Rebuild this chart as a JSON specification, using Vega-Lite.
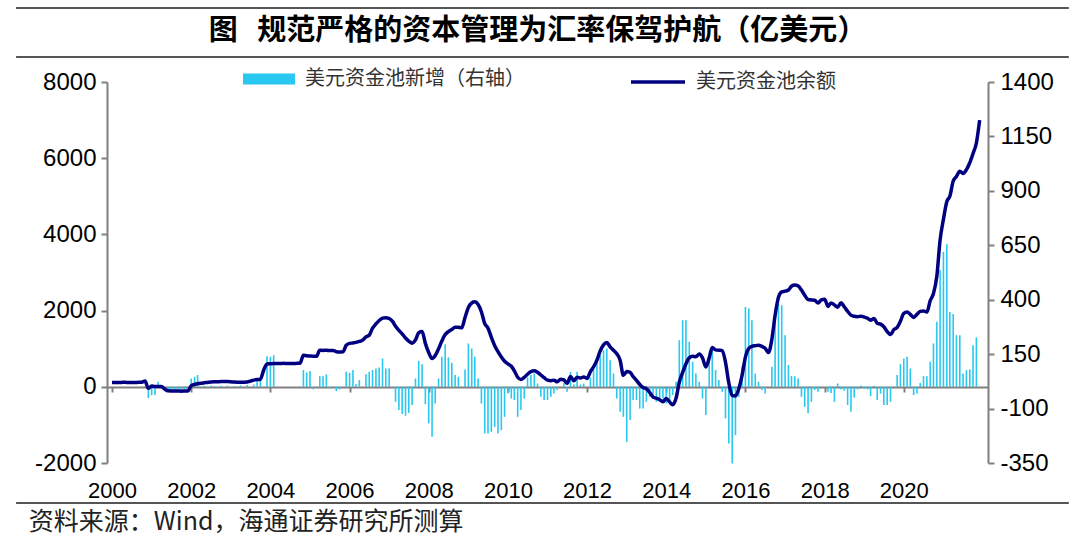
{
"$schema": "https://vega.github.io/schema/vega-lite/v6.json",
"width": 881, "height": 381,
"autosize": {"type": "none"},
"padding": {"left": 107, "top": 82, "right": 92, "bottom": 82},
"background": "white",
"config": {"view": {"stroke": null}, "font": "Liberation Sans"},
"title": {"text": "图\u00a0\u00a0\u00a0规范严格的资本管理为汇率保驾护航（亿美元）", "font": "Noto Sans CJK SC", "fontSize": 29, "fontWeight": "bold", "color": "#000000", "anchor": "middle", "frame": "group", "dx": -10, "offset": -39},
"data": {"format": {"parse": {"d": "date:'%Y-%m'"}}, "values": [
{"d":"2000-01","b":114},{"d":"2000-02","b":115},{"d":"2000-03","b":113},{"d":"2000-04","b":116},{"d":"2000-05","b":118},{"d":"2000-06","b":114},{"d":"2000-07","b":112},{"d":"2000-08","b":115},{"d":"2000-09","b":117},{"d":"2000-10","b":120},{"d":"2000-11","b":150},{"d":"2000-12","b":-40,"i":-52},
{"d":"2001-01","b":20,"i":-38},{"d":"2001-02","b":10,"i":-38},{"d":"2001-03","b":10,"i":23},{"d":"2001-04","b":5},{"d":"2001-05","b":-60},{"d":"2001-06","b":-105,"i":-20},{"d":"2001-07","b":-110,"i":-15},{"d":"2001-08","b":-112,"i":-20},{"d":"2001-09","b":-110,"i":-20},{"d":"2001-10","b":-115,"i":-15},{"d":"2001-11","b":-112,"i":-10},{"d":"2001-12","b":-110},
{"d":"2002-01","b":30,"i":38},{"d":"2002-02","b":60,"i":46},{"d":"2002-03","b":80,"i":54},{"d":"2002-04","b":95},{"d":"2002-05","b":105,"i":5},{"d":"2002-06","b":115},{"d":"2002-07","b":125,"i":6},{"d":"2002-08","b":130,"i":4},{"d":"2002-09","b":132},{"d":"2002-10","b":138,"i":5},{"d":"2002-11","b":140},{"d":"2002-12","b":138,"i":5},
{"d":"2003-01","b":132},{"d":"2003-02","b":125,"i":4},{"d":"2003-03","b":122},{"d":"2003-04","b":122,"i":6},{"d":"2003-05","b":122},{"d":"2003-06","b":125,"i":8},{"d":"2003-07","b":150},{"d":"2003-08","b":175,"i":10},{"d":"2003-09","b":190,"i":28},{"d":"2003-10","b":200,"i":32},{"d":"2003-11","b":440},{"d":"2003-12","b":600,"i":140},
{"d":"2004-01","b":605,"i":138},{"d":"2004-02","b":610,"i":145},{"d":"2004-03","b":612},{"d":"2004-04","b":610},{"d":"2004-05","b":615},{"d":"2004-06","b":612},{"d":"2004-07","b":612},{"d":"2004-08","b":610},{"d":"2004-09","b":615},{"d":"2004-10","b":620},{"d":"2004-11","b":830,"i":77},{"d":"2004-12","b":815,"i":66},
{"d":"2005-01","b":810,"i":73},{"d":"2005-02","b":805,"i":-12},{"d":"2005-03","b":800},{"d":"2005-04","b":960,"i":49},{"d":"2005-05","b":955,"i":49},{"d":"2005-06","b":960,"i":57},{"d":"2005-07","b":950,"i":-8},{"d":"2005-08","b":955},{"d":"2005-09","b":920,"i":-20},{"d":"2005-10","b":915,"i":-12},{"d":"2005-11","b":920},{"d":"2005-12","b":1090,"i":69},
{"d":"2006-01","b":1140,"i":64},{"d":"2006-02","b":1150,"i":77},{"d":"2006-03","b":1165,"i":12},{"d":"2006-04","b":1190,"i":31},{"d":"2006-05","b":1225},{"d":"2006-06","b":1310,"i":58},{"d":"2006-07","b":1355,"i":69},{"d":"2006-08","b":1540,"i":77},{"d":"2006-09","b":1650,"i":84},{"d":"2006-10","b":1740,"i":89},{"d":"2006-11","b":1800,"i":130},{"d":"2006-12","b":1815,"i":84},
{"d":"2007-01","b":1790,"i":84},{"d":"2007-02","b":1715},{"d":"2007-03","b":1590,"i":-69},{"d":"2007-04","b":1480,"i":-107},{"d":"2007-05","b":1390,"i":-125},{"d":"2007-06","b":1280,"i":-133},{"d":"2007-07","b":1200,"i":-120},{"d":"2007-08","b":1145,"i":-84},{"d":"2007-09","b":1230,"i":38},{"d":"2007-10","b":1420,"i":119},{"d":"2007-11","b":1450,"i":104},{"d":"2007-12","b":1140,"i":-80},
{"d":"2008-01","b":900,"i":-168},{"d":"2008-02","b":740,"i":-230},{"d":"2008-03","b":820,"i":-77},{"d":"2008-04","b":1000,"i":38},{"d":"2008-05","b":1200,"i":138},{"d":"2008-06","b":1370,"i":196},{"d":"2008-07","b":1450,"i":135},{"d":"2008-08","b":1505,"i":110},{"d":"2008-09","b":1565,"i":54},{"d":"2008-10","b":1560,"i":46},{"d":"2008-11","b":1550},{"d":"2008-12","b":1820,"i":80},
{"d":"2009-01","b":2080,"i":199},{"d":"2009-02","b":2200,"i":176},{"d":"2009-03","b":2230,"i":138},{"d":"2009-04","b":2160,"i":38},{"d":"2009-05","b":1970,"i":-77},{"d":"2009-06","b":1660,"i":-214},{"d":"2009-07","b":1540,"i":-214},{"d":"2009-08","b":1300,"i":-207},{"d":"2009-09","b":1080,"i":-184},{"d":"2009-10","b":920,"i":-214},{"d":"2009-11","b":780,"i":-199},{"d":"2009-12","b":670,"i":-138},
{"d":"2010-01","b":600,"i":-31},{"d":"2010-02","b":540,"i":-54},{"d":"2010-03","b":420,"i":-61},{"d":"2010-04","b":250,"i":-138},{"d":"2010-05","b":190,"i":-107},{"d":"2010-06","b":250,"i":-54},{"d":"2010-07","b":330,"i":43},{"d":"2010-08","b":400,"i":54},{"d":"2010-09","b":420,"i":61},{"d":"2010-10","b":380,"i":15},{"d":"2010-11","b":310,"i":-46},{"d":"2010-12","b":240,"i":-61},
{"d":"2011-01","b":175,"i":-61},{"d":"2011-02","b":160,"i":-46},{"d":"2011-03","b":175,"i":-31},{"d":"2011-04","b":130,"i":-15},{"d":"2011-05","b":200},{"d":"2011-06","b":180,"i":18},{"d":"2011-07","b":90,"i":-23},{"d":"2011-08","b":270,"i":69},{"d":"2011-09","b":160,"i":12},{"d":"2011-10","b":250,"i":69},{"d":"2011-11","b":230,"i":10},{"d":"2011-12","b":260,"i":15},
{"d":"2012-01","b":220},{"d":"2012-02","b":400,"i":43},{"d":"2012-03","b":520,"i":84},{"d":"2012-04","b":700,"i":115},{"d":"2012-05","b":940,"i":145},{"d":"2012-06","b":1100,"i":168},{"d":"2012-07","b":1160,"i":176},{"d":"2012-08","b":1050,"i":122},{"d":"2012-09","b":960,"i":61},{"d":"2012-10","b":870,"i":-54},{"d":"2012-11","b":700,"i":-115},{"d":"2012-12","b":300,"i":-138},
{"d":"2013-01","b":400,"i":-253},{"d":"2013-02","b":380,"i":-153},{"d":"2013-03","b":270,"i":-61},{"d":"2013-04","b":170,"i":-61},{"d":"2013-05","b":60,"i":-100},{"d":"2013-06","b":-20,"i":-100},{"d":"2013-07","b":-50,"i":-69},{"d":"2013-08","b":-150,"i":-46},{"d":"2013-09","b":-270,"i":-54},{"d":"2013-10","b":-300,"i":-69},{"d":"2013-11","b":-340,"i":-54},{"d":"2013-12","b":-390,"i":-54},
{"d":"2014-01","b":-310,"i":-77},{"d":"2014-02","b":-400,"i":-69},{"d":"2014-03","b":-470,"i":-38},{"d":"2014-04","b":-300,"i":23},{"d":"2014-05","b":120,"i":214},{"d":"2014-06","b":380,"i":306},{"d":"2014-07","b":600,"i":306},{"d":"2014-08","b":760,"i":207},{"d":"2014-09","b":800,"i":115},{"d":"2014-10","b":790,"i":61},{"d":"2014-11","b":860,"i":23},{"d":"2014-12","b":760,"i":-54},
{"d":"2015-01","b":520,"i":-130},{"d":"2015-02","b":760,"i":145},{"d":"2015-03","b":1030,"i":184},{"d":"2015-04","b":970,"i":77},{"d":"2015-05","b":960,"i":31},{"d":"2015-06","b":950,"i":-23},{"d":"2015-07","b":650,"i":-145},{"d":"2015-08","b":100,"i":-260},{"d":"2015-09","b":-230,"i":-352},{"d":"2015-10","b":-240,"i":-222},{"d":"2015-11","b":-50,"i":-46},{"d":"2015-12","b":300,"i":92},
{"d":"2016-01","b":780,"i":367},{"d":"2016-02","b":1010,"i":360},{"d":"2016-03","b":1060,"i":306},{"d":"2016-04","b":1080,"i":61},{"d":"2016-05","b":1090,"i":23},{"d":"2016-06","b":1060,"i":-15},{"d":"2016-07","b":1010,"i":-31},{"d":"2016-08","b":900},{"d":"2016-09","b":1250,"i":92},{"d":"2016-10","b":1880,"i":306},{"d":"2016-11","b":2350,"i":383},{"d":"2016-12","b":2490,"i":375},
{"d":"2017-01","b":2510,"i":237},{"d":"2017-02","b":2540,"i":100},{"d":"2017-03","b":2640,"i":49},{"d":"2017-04","b":2670,"i":49},{"d":"2017-05","b":2650,"i":38},{"d":"2017-06","b":2540,"i":-46},{"d":"2017-07","b":2400,"i":-92},{"d":"2017-08","b":2290,"i":-122},{"d":"2017-09","b":2280,"i":-69},{"d":"2017-10","b":2270,"i":-15},{"d":"2017-11","b":2200,"i":-23},{"d":"2017-12","b":2280},
{"d":"2018-01","b":2300},{"d":"2018-02","b":2110,"i":-23},{"d":"2018-03","b":2200,"i":-28},{"d":"2018-04","b":2150,"i":-69},{"d":"2018-05","b":2090,"i":15},{"d":"2018-06","b":2205,"i":-12},{"d":"2018-07","b":2100,"i":-18},{"d":"2018-08","b":1980,"i":-84},{"d":"2018-09","b":1880,"i":-115},{"d":"2018-10","b":1850,"i":-50},{"d":"2018-11","b":1840,"i":-12},{"d":"2018-12","b":1855,"i":6},
{"d":"2019-01","b":1830,"i":-9},{"d":"2019-02","b":1800,"i":-12},{"d":"2019-03","b":1750,"i":-43},{"d":"2019-04","b":1795,"i":5},{"d":"2019-05","b":1670,"i":-61},{"d":"2019-06","b":1645,"i":-31},{"d":"2019-07","b":1575,"i":-84},{"d":"2019-08","b":1450,"i":-84},{"d":"2019-09","b":1370,"i":-69},{"d":"2019-10","b":1500},{"d":"2019-11","b":1560,"i":54},{"d":"2019-12","b":1720,"i":104},
{"d":"2020-01","b":1925,"i":130},{"d":"2020-02","b":1960,"i":138},{"d":"2020-03","b":1900,"i":84},{"d":"2020-04","b":1820,"i":-38},{"d":"2020-05","b":1900,"i":-31},{"d":"2020-06","b":1980,"i":18},{"d":"2020-07","b":1990,"i":49},{"d":"2020-08","b":1960,"i":49},{"d":"2020-09","b":2260,"i":115},{"d":"2020-10","b":2450,"i":199},{"d":"2020-11","b":2900,"i":299},{"d":"2020-12","b":3850,"i":536},
{"d":"2021-01","b":4400,"i":620},{"d":"2021-02","b":4860,"i":655},{"d":"2021-03","b":5000,"i":344},{"d":"2021-04","b":5400,"i":334},{"d":"2021-05","b":5520,"i":237},{"d":"2021-06","b":5660,"i":237},{"d":"2021-07","b":5600,"i":61},{"d":"2021-08","b":5700,"i":77},{"d":"2021-09","b":5880,"i":80},{"d":"2021-10","b":6120,"i":191},{"d":"2021-11","b":6400,"i":227},{"d":"2021-12","b":7000}
]},
"layer": [
 {"mark": {"type": "bar", "width": 1.6},
  "encoding": {
   "x": {"field": "d", "type": "temporal",
         "scale": {"domain": [{"year": 2000, "month": 1, "date": 1}, {"year": 2022, "month": 1, "date": 1}]},
         "axis": {"title": null, "format": "%Y", "values": [{"year":2000},{"year":2002},{"year":2004},{"year":2006},{"year":2008},{"year":2010},{"year":2012},{"year":2014},{"year":2016},{"year":2018},{"year":2020}],
                  "offset": -76, "labelPadding": 88, "labelFontSize": 22, "labelColor": "#000000", "labelFlush": false, "labelOverlap": false,
                  "domainColor": "#808080", "domainWidth": 2, "tickColor": "#808080", "tickWidth": 2, "tickSize": 5, "grid": false}},
   "y": {"field": "i", "type": "quantitative",
         "scale": {"domain": [-350, 1400], "nice": false, "zero": false},
         "axis": {"orient": "right", "title": null, "values": [-350,-100,150,400,650,900,1150,1400], "labelExpr": "'' + datum.value", "labelFontSize": 24, "labelColor": "#000000", "labelPadding": 6,
                  "domainColor": "#808080", "domainWidth": 2, "tickColor": "#808080", "tickWidth": 2, "tickSize": 6, "grid": false}},
   "color": {"datum": "美元资金池新增（右轴）", "scale": {"range": ["#29C8F0"]},
             "legend": {"orient": "none", "legendX": 136, "legendY": -29, "title": null, "padding": 0,
                        "symbolType": "M-1,-0.21L1,-0.21L1,0.21L-1,0.21Z", "symbolSize": 2704, "symbolStrokeWidth": 0,
                        "labelFont": "Noto Sans CJK SC", "labelFontSize": 20, "labelColor": "#333333", "labelOffset": 10, "labelLimit": 400}}
  }},
 {"layer": [
   {"mark": {"type": "line", "strokeWidth": 3.5, "interpolate": "monotone"},
    "encoding": {
     "x": {"field": "d", "type": "temporal"},
     "y": {"field": "b", "type": "quantitative",
           "scale": {"domain": [-2000, 8000], "nice": false, "zero": false},
           "axis": {"orient": "left", "title": null, "values": [-2000,-1000,0,1000,2000,3000,4000,5000,6000,7000,8000], "labelExpr": "'' + datum.value", "labelFontSize": 24, "labelColor": "#000000", "labelPadding": 5,
                    "domainColor": "#808080", "domainWidth": 2, "tickColor": "#808080", "tickWidth": 2, "tickSize": 6, "grid": false}},
     "stroke": {"datum": "美元资金池余额", "scale": {"range": ["#000080"]},
                "legend": {"orient": "none", "legendX": 522, "legendY": -29, "title": null, "padding": 0,
                           "symbolType": "M-1,0L1,0", "symbolSize": 2916, "symbolStrokeWidth": 3.5,
                           "labelFont": "Noto Sans CJK SC", "labelFontSize": 20, "labelColor": "#333333", "labelOffset": 9, "labelLimit": 400}}
    }},
   {"data": {"values": [{}]}, "mark": {"type": "rule", "color": "#555555", "strokeWidth": 2},
    "encoding": {"x": {"datum": {"year": 1997, "month": 7, "date": 30}, "type": "temporal"}, "x2": {"datum": {"year": 2024, "month": 3, "date": 3}}, "y": {"datum": 9942, "type": "quantitative"}}},
   {"data": {"values": [{}]}, "mark": {"type": "rule", "color": "#555555", "strokeWidth": 2},
    "encoding": {"x": {"datum": {"year": 1997, "month": 7, "date": 30}, "type": "temporal"}, "x2": {"datum": {"year": 2024, "month": 3, "date": 3}}, "y": {"datum": 8656, "type": "quantitative"}}},
   {"data": {"values": [{}]}, "mark": {"type": "rule", "color": "#555555", "strokeWidth": 2},
    "encoding": {"x": {"datum": {"year": 1997, "month": 7, "date": 30}, "type": "temporal"}, "x2": {"datum": {"year": 2024, "month": 3, "date": 3}}, "y": {"datum": -3050, "type": "quantitative"}}},
   {"data": {"values": [{}]}, "mark": {"type": "text", "align": "left", "baseline": "middle", "font": "Noto Sans CJK SC", "fontSize": 25, "color": "#222222"},
    "encoding": {"x": {"datum": {"year": 1997, "month": 11, "date": 25}, "type": "temporal"}, "y": {"datum": -3549, "type": "quantitative"}, "text": {"value": "资料来源：Wind，海通证券研究所测算"}}}
 ]}
],
"resolve": {"scale": {"y": "independent"}}
}
